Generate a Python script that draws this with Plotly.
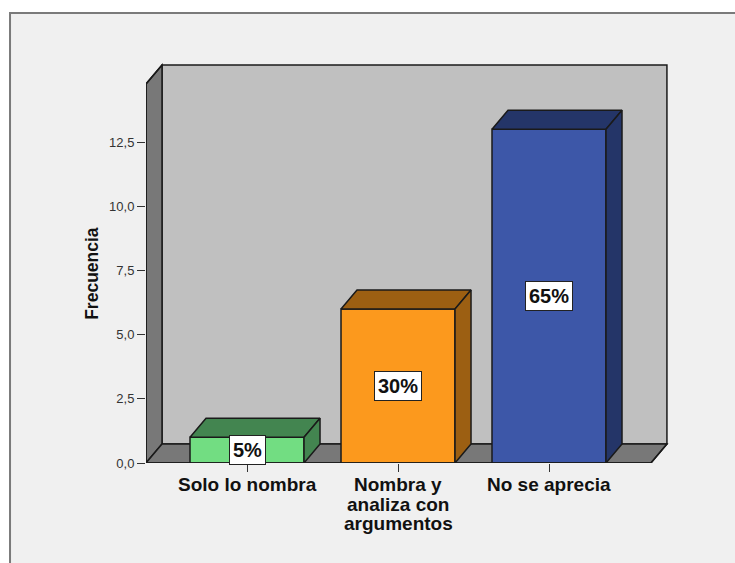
import plotly.graph_objects as go

categories = ["Solo lo nombra", "Nombra y<br>analiza con<br>argumentos", "No se aprecia"]
frecuencia = [1, 6, 13]
porcentajes = ["5%", "30%", "65%"]
y_ticks = [0, 2.5, 5, 7.5, 10, 12.5]

front_colors = ["#72dd82", "#fc991d", "#3d57a8"]
side_colors = ["#438550", "#9c5f12", "#243568"]

# fake 3D box, depth in axis units
x_pos = [0, 1, 2]
bar_w = 0.755
depth_x = 0.106
depth_y = 0.74
x_min = -0.669
x_max = 2.675
y_top = 14.76
edge = "#1a1a1a"

fig = go.Figure()

# front faces
fig.add_trace(go.Bar(
    x=x_pos, y=frecuencia, width=bar_w,
    marker=dict(color=front_colors, line=dict(color=edge, width=1.5)),
    showlegend=False,
))

# top and side faces of each bar
for x, v, c in zip(x_pos, frecuencia, side_colors):
    x0 = x - bar_w / 2
    x1 = x + bar_w / 2
    fig.add_trace(go.Scatter(
        x=[x0, x1, x1 + depth_x, x0 + depth_x, x0],
        y=[v, v, v + depth_y, v + depth_y, v],
        mode="lines", fill="toself", fillcolor=c,
        line=dict(color=edge, width=1.5), showlegend=False,
    ))
    fig.add_trace(go.Scatter(
        x=[x1, x1 + depth_x, x1 + depth_x, x1, x1],
        y=[0, depth_y, v + depth_y, v, 0],
        mode="lines", fill="toself", fillcolor=c,
        line=dict(color=edge, width=1.5), showlegend=False,
    ))

# outer edge of the left wall and floor, not clipped by the plot area
fig.add_trace(go.Scatter(
    x=[x_min + depth_x, x_min, x_min, x_max, x_max + depth_x],
    y=[y_top + depth_y, y_top, 0, 0, depth_y],
    mode="lines", line=dict(color=edge, width=1.5),
    cliponaxis=False, showlegend=False,
))

shapes = [
    # chart frame
    dict(type="rect", xref="paper", yref="paper", x0=-0.26, x1=1.3, y0=-0.3, y1=1.122,
         fillcolor="#f0f0f0", line=dict(color="#7a7a7a", width=2), layer="below"),
    # back wall
    dict(type="rect", x0=x_min + depth_x, x1=x_max + depth_x, y0=depth_y, y1=y_top + depth_y,
         fillcolor="#c0c0c0", line=dict(color=edge, width=1.5), layer="below"),
    # left wall
    dict(type="path", layer="below", fillcolor="#787878", line=dict(color=edge, width=1.5),
         path=f"M {x_min} 0 L {x_min + depth_x} {depth_y} L {x_min + depth_x} {y_top + depth_y} L {x_min} {y_top} Z"),
    # floor
    dict(type="path", layer="below", fillcolor="#787878", line=dict(color=edge, width=1.5),
         path=f"M {x_min} 0 L {x_max} 0 L {x_max + depth_x} {depth_y} L {x_min + depth_x} {depth_y} Z"),
]

annotations = []
for x, v, p in zip(x_pos, frecuencia, porcentajes):
    annotations.append(dict(
        x=x, y=v / 2, text=f"<b>{p}</b>", showarrow=False,
        font=dict(family="Liberation Sans", size=20, color="#111111"),
        bgcolor="white", bordercolor="#222222", borderwidth=1, borderpad=3,
    ))

# category labels one line each, the spacing is tighter than plotly's line height
for x, cat in zip(x_pos, categories):
    for i, line in enumerate(cat.split("<br>")):
        annotations.append(dict(
            x=x, y=0, text=f"<b>{line}</b>", showarrow=False, yanchor="top",
            yshift=-9 - 19.5 * i,
            font=dict(family="Liberation Sans", size=19, color="#111111"),
        ))

annotations.append(dict(
    xref="paper", yref="paper", x=-0.1036, y=0.4738, xanchor="center", yanchor="middle",
    text="<b>Frecuencia</b>", textangle=-90,
    showarrow=False, font=dict(family="Liberation Sans", size=17.5, color="#111111"),
))

fig.update_layout(
    width=735, height=563,
    margin=dict(l=146, r=66, t=62, b=100),
    paper_bgcolor="white", plot_bgcolor="rgba(0,0,0,0)",
    separators=",.",
    showlegend=False,
    shapes=shapes, annotations=annotations,
    xaxis=dict(
        range=[x_min, (669 - 247) / 151], tickvals=x_pos, ticktext=["", "", ""],
        ticks="outside", ticklen=8, tickcolor="#333333", showgrid=False, zeroline=False,
    ),
    yaxis=dict(
        range=[0, (463 - 62) / 25.68], tickvals=y_ticks, tickformat=".1f",
        ticks="outside", ticklen=8, tickcolor="#333333", showgrid=False, zeroline=False,
        tickfont=dict(family="Liberation Sans", size=13, color="#333333"),
    ),
)

# the page's default body margin would shift the chart by 8px
fig.write_html("out.html", post_script="document.body.style.margin='0';",
               config=dict(displayModeBar=False))
